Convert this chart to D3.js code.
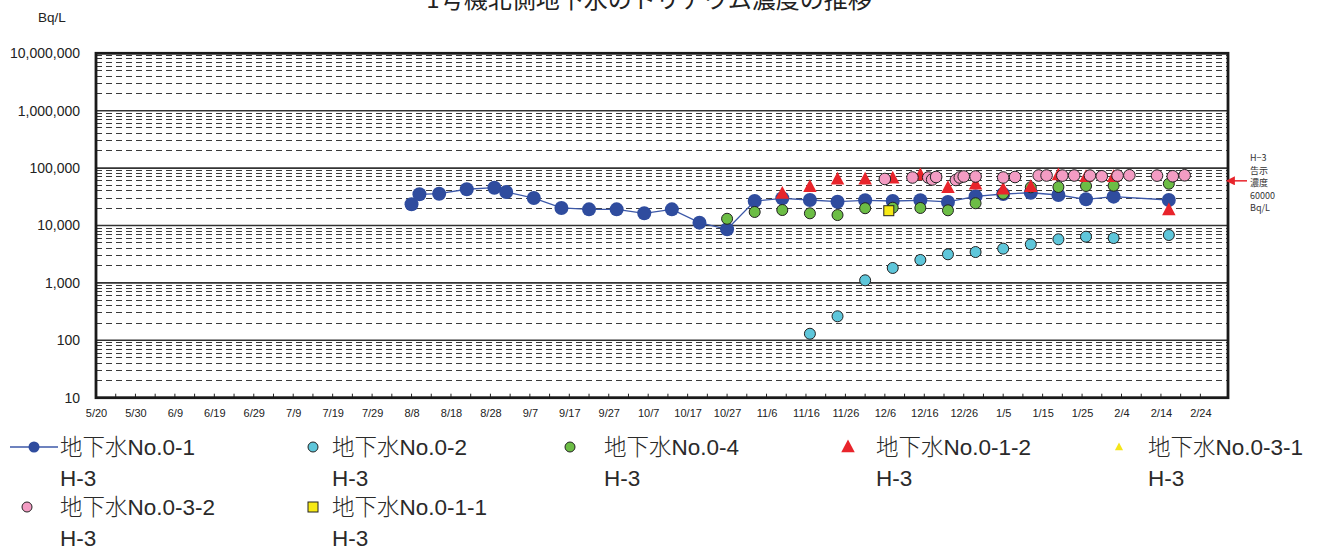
<!DOCTYPE html>
<html><head><meta charset="utf-8">
<script src="https://cdn.jsdelivr.net/npm/d3@7"></script>
<style>body{margin:0;background:#fff}svg{display:block}</style>
</head><body>
<svg id="chart" width="1322" height="550"></svg>
<script>
// ---------------- data ----------------
const chartTitle = "1号機北側地下水のトリチウム濃度の推移";
const yUnit = "Bq/L";
const yTickValues = [10, 100, 1000, 10000, 100000, 1000000, 10000000];
const xTickLabels = ["5/20","5/30","6/9","6/19","6/29","7/9","7/19","7/29","8/8","8/18","8/28","9/7","9/17","9/27","10/7","10/17","10/27","11/6","11/16","11/26","12/6","12/16","12/26","1/5","1/15","1/25","2/4","2/14","2/24"];
const xDomain = ["2013-05-20", "2014-03-03"];
const limitValue = 60000;
const limitLabel = ["H−3", "告示", "濃度", "60000", "Bq/L"];

const well01 = [
  ["2013-08-08",23400],["2013-08-10",35000],["2013-08-15",35800],["2013-08-22",42800],
  ["2013-08-29",45600],["2013-09-01",38300],["2013-09-08",30100],["2013-09-15",20200],
  ["2013-09-22",19100],["2013-09-29",19100],["2013-10-06",16300],["2013-10-13",19100],
  ["2013-10-20",11200],["2013-10-27",8600],["2013-11-03",26700],["2013-11-10",29800],
  ["2013-11-17",27800],["2013-11-24",26000],["2013-12-01",27500],["2013-12-08",26700],
  ["2013-12-15",27500],["2013-12-22",25700],["2013-12-29",32200],["2014-01-05",35400],
  ["2014-01-12",37200],["2014-01-19",34000],["2014-01-26",28600],["2014-02-02",31800],
  ["2014-02-16",27800]
];
const well02 = [
  ["2013-11-17",130],["2013-11-24",262],["2013-12-01",1110],["2013-12-08",1820],
  ["2013-12-15",2510],["2013-12-22",3150],["2013-12-29",3450],["2014-01-05",3950],
  ["2014-01-12",4700],["2014-01-19",5750],["2014-01-26",6380],["2014-02-02",6050],
  ["2014-02-16",6830]
];
const well04 = [
  ["2013-10-27",13100],["2013-11-03",17200],["2013-11-10",18600],["2013-11-17",16300],
  ["2013-11-24",15200],["2013-12-01",20000],["2013-12-08",20400],["2013-12-15",20200],
  ["2013-12-22",18400],["2013-12-29",24400],["2014-01-05",35800],["2014-01-12",46300],
  ["2014-01-19",46900],["2014-01-26",48800],["2014-02-02",49400],["2014-02-16",53400]
];
const well012 = [
  ["2013-11-10",36000],["2013-11-17",47400],["2013-11-24",63800],["2013-12-01",63800],
  ["2013-12-08",66400],["2013-12-15",75800],["2013-12-22",45600],["2013-12-29",52200],
  ["2014-01-05",42800],["2014-01-12",47400],["2014-01-19",75800],["2014-01-26",70800],
  ["2014-02-02",70800],["2014-02-16",18600]
];
const well031 = [];
const well032 = [
  ["2013-12-06",64600],["2013-12-13",68600],["2013-12-17",68600],["2013-12-18",63300],
  ["2013-12-19",70000],["2013-12-24",62100],["2013-12-25",68600],["2013-12-26",71400],
  ["2013-12-29",71400],["2014-01-05",68600],["2014-01-08",70000],["2014-01-14",74300],
  ["2014-01-16",74300],["2014-01-20",74000],["2014-01-23",74300],["2014-01-27",74000],
  ["2014-01-30",72000],["2014-02-03",74000],["2014-02-06",75000],["2014-02-13",74000],
  ["2014-02-17",72000],["2014-02-20",75000]
];
const well011 = [["2013-12-07",18100]];

const seriesPrefix = "地下水";
const seriesNames = ["No.0-1","No.0-2","No.0-4","No.0-1-2","No.0-3-1","No.0-3-2","No.0-1-1"];
const seriesSub = ["H-3","H-3","H-3","H-3","H-3","H-3","H-3"];

// ---------------- styles / layout ----------------
const seriesStyle = [
  {data: well01,  shape:"circle",   fill:"#2f4c9e", stroke:"none", r:7, line:true},
  {data: well02,  shape:"circle",   fill:"#5ec6da", stroke:"#222", r:5.5},
  {data: well04,  shape:"circle",   fill:"#6cbd45", stroke:"#222", r:5.5},
  {data: well012, shape:"triangle", fill:"#e8242b", stroke:"none", r:7.5},
  {data: well031, shape:"triangle", fill:"#f5e51a", stroke:"none", r:4.5},
  {data: well032, shape:"circle",   fill:"#f39cc3", stroke:"#222", r:5.8},
  {data: well011, shape:"square",   fill:"#f7ea16", stroke:"#222", r:5}
];
const legendMarkerDx = [-26, -19, -34, -28, -29, -33, -19];
const legendMarkerR  = [5.5, 5, 5, 7.5, 4.5, 5, 5];
const sansLatin = "'Liberation Sans', Arial, sans-serif";
const sansCJK = "'Noto Sans CJK JP', sans-serif";

const svg = d3.select("#chart");
const parse = d3.utcParse("%Y-%m-%d");
const L = 96, R = 1228, T = 53.3, B = 397.7;

const x = d3.scaleUtc().domain(xDomain.map(parse)).range([L, R]);
const y = d3.scaleLog().domain([10, 10000000]).range([B, T]);

// title
svg.append("text").attr("x", 649).attr("y", 8).attr("text-anchor","middle")
  .attr("font-family", sansCJK).attr("font-size", 24)
  .attr("fill","#222").text(chartTitle);
svg.append("text").attr("x", 52).attr("y", 22).attr("text-anchor","middle")
  .attr("font-family", sansLatin).attr("font-size", 13.5)
  .attr("fill","#222").text(yUnit);

// minor gridlines
const minorVals = [];
for (let d = 10; d < 10000000; d *= 10) for (let k = 2; k <= 9; k++) minorVals.push(d * k);
svg.append("g").selectAll("line").data(minorVals).join("line")
  .attr("x1", L).attr("x2", R).attr("y1", d => y(d)).attr("y2", d => y(d))
  .attr("stroke", "#3a3a3a").attr("stroke-width", 1).attr("stroke-dasharray", "6,4")
  .attr("shape-rendering","crispEdges");
// major gridlines
svg.append("g").selectAll("line").data(yTickValues).join("line")
  .attr("x1", L).attr("x2", R).attr("y1", d => y(d)).attr("y2", d => y(d))
  .attr("stroke", "#333").attr("stroke-width", 1.6);

// y axis
const yAxis = d3.axisLeft(y).tickValues(yTickValues).tickSize(0).tickPadding(16)
  .tickFormat(d3.format(","));
const gy = svg.append("g").attr("transform", `translate(${L},0)`).call(yAxis);
gy.select(".domain").remove();
gy.selectAll("text").attr("font-family", sansLatin)
  .attr("font-size", 14).attr("fill", "#222");

// x axis
const tickDates = xTickLabels.map(s => {
  const [m, d] = s.split("/").map(Number);
  return new Date(Date.UTC(m >= 5 ? 2013 : 2014, m - 1, d));
});
const xAxis = d3.axisBottom(x).tickValues(tickDates).tickSize(0).tickPadding(12)
  .tickFormat((d, i) => xTickLabels[i]);
const gx = svg.append("g").attr("transform", `translate(0,${B})`).call(xAxis);
gx.select(".domain").remove();
gx.selectAll("text").attr("font-family", sansLatin)
  .attr("font-size", 11).attr("fill", "#222");
// minor inside ticks every 5 days
const t0 = parse("2013-05-20");
svg.append("g").selectAll("line").data(d3.utcDay.range(t0, parse("2014-03-01"), 1)
  .filter(d => Math.round((d - t0) / 864e5) % 5 === 0))
  .join("line").attr("x1", d => x(d)).attr("x2", d => x(d)).attr("y1", B).attr("y2", B - 4)
  .attr("stroke", "#222").attr("stroke-width", 1);

// frame
svg.append("rect").attr("x", L).attr("y", T).attr("width", R - L).attr("height", B - T)
  .attr("fill", "none").attr("stroke", "#1a1a1a").attr("stroke-width", 2.8);

// marker helper
function marker(sel, shape, r) {
  if (shape === "circle") {
    return sel.append("circle").attr("r", r);
  } else if (shape === "triangle") {
    return sel.append("path").attr("d", `M0,${-r}L${r*0.9},${r*0.7}L${-r*0.9},${r*0.7}Z`);
  } else {
    return sel.append("rect").attr("x", -r).attr("y", -r).attr("width", 2*r).attr("height", 2*r);
  }
}

// line for well01
const line = d3.line().x(d => x(parse(d[0]))).y(d => y(d[1]));
svg.append("path").datum(well01).attr("d", line).attr("fill", "none")
  .attr("stroke", "#3c58a8").attr("stroke-width", 1.3);

seriesStyle.forEach(st => {
  const g = svg.append("g");
  st.data.forEach(p => {
    const m = g.append("g").attr("transform", `translate(${x(parse(p[0]))},${y(p[1])})`);
    marker(m, st.shape, st.r).attr("fill", st.fill).attr("stroke", st.stroke).attr("stroke-width", 1);
  });
});

// limit annotation
const ly = y(limitValue);
svg.append("defs").append("marker").attr("id", "ah").attr("viewBox", "0 0 10 10")
  .attr("refX", 1).attr("refY", 5).attr("markerWidth", 6).attr("markerHeight", 6)
  .attr("orient", "auto-start-reverse")
  .append("path").attr("d", "M0,0L10,5L0,10Z").attr("fill", "#e8242b");
svg.append("line").attr("x1", 1247).attr("x2", 1234).attr("y1", ly).attr("y2", ly)
  .attr("stroke", "#e8242b").attr("stroke-width", 1.5).attr("marker-end", "url(#ah)");
svg.append("g").selectAll("text").data(limitLabel).join("text")
  .attr("x", 1250).attr("y", (d, i) => 161 + i * 12.5)
  .attr("font-family", sansCJK).attr("font-size", 9)
  .attr("fill", "#333").text(d => d);

// legend
const lg = svg.append("g");
seriesNames.forEach((name, i) => {
  const col = i % 5, row = Math.floor(i / 5);
  const tx = 60 + 272 * col, cy = 447 + 60 * row;
  const st = seriesStyle[i];
  if (st.line) {
    lg.append("line").attr("x1", 10).attr("x2", 58).attr("y1", cy).attr("y2", cy)
      .attr("stroke", "#3c58a8").attr("stroke-width", 1.3);
  }
  const m = lg.append("g").attr("transform", `translate(${tx + legendMarkerDx[i]},${cy})`);
  marker(m, st.shape, legendMarkerR[i]).attr("fill", st.fill).attr("stroke", st.stroke).attr("stroke-width", 1);
  const t = lg.append("text").attr("x", tx).attr("y", cy + 8)
    .attr("font-size", 22.5).attr("fill", "#2a2a2a");
  t.append("tspan").attr("font-family", sansCJK).attr("font-weight", 300).text(seriesPrefix);
  t.append("tspan").attr("font-family", sansLatin).text(name);
  lg.append("text").attr("x", tx).attr("y", cy + 39)
    .attr("font-family", sansLatin).attr("font-size", 22.5)
    .attr("fill", "#2a2a2a").text(seriesSub[i]);
});
</script>
</body></html>
